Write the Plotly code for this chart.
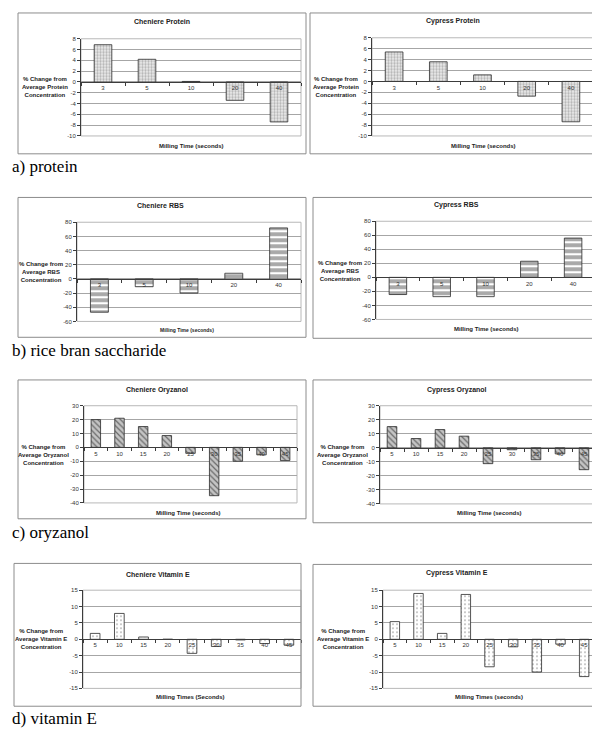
import plotly.graph_objects as go

W, H = 600, 729

# ---------------- data ----------------
protein_times = ["3", "5", "10", "20", "40"]
cheniere_protein = [6.9, 4.2, 0.1, -3.4, -7.4]
cypress_protein = [5.4, 3.6, 1.2, -2.7, -7.4]
protein_ticks = [-10, -8, -6, -4, -2, 0, 2, 4, 6, 8]

rbs_times = ["3", "5", "10", "20", "40"]
cheniere_rbs = [-47, -11, -20, 8, 72]
cypress_rbs = [-24.5, -27.5, -27.5, 23, 56]
rbs_ticks = [-60, -40, -20, 0, 20, 40, 60, 80]

oryz_times = ["5", "10", "15", "20", "25", "30", "35", "40", "45"]
cheniere_oryz = [20, 21, 15, 8.5, -4.3, -34.8, -10, -5.4, -9.5]
cypress_oryz = [15.1, 6.6, 13, 8.3, -11.3, -1.4, -8.5, -4.3, -15.6]
oryz_ticks = [-40, -30, -20, -10, 0, 10, 20, 30]

vite_times = ["5", "10", "15", "20", "25", "30", "35", "40", "45"]
cheniere_vite = [1.8, 7.9, 0.7, 0.0, -4.3, -2.2, -0.2, -1.3, -1.8]
cypress_vite = [5.4, 14.0, 1.8, 13.7, -8.4, -2.3, -10.0, -1.5, -11.4]
vite_ticks = [-15, -10, -5, 0, 5, 10, 15]

# ---------------- styles ----------------
pat_protein = dict(shape=".", fgcolor="#b4b4b4", bgcolor="#ececec", size=3, solidity=0.45, fillmode="replace")
pat_rbs = dict(shape="-", fgcolor="#ffffff", bgcolor="#a9a9a9", size=6, solidity=0.35, fillmode="replace")
pat_oryz = dict(shape="\\", fgcolor="#6a6a6a", bgcolor="#c4c4c4", size=4, solidity=0.3, fillmode="replace")
pat_vite = dict(shape=".", fgcolor="#a0a0a0", bgcolor="#ffffff", size=4, solidity=0.15, fillmode="replace")

panels = [
    dict(title="Cheniere Protein", cats=protein_times, vals=cheniere_protein, ticks=protein_ticks,
         ytitle="% Change from<br>Average Protein<br>Concentration", xtitle="Milling Time (seconds)",
         pat=pat_protein, plot=(73, 28, 293, 126), frame=(10, 2, 298, 144),
         tpos=(154, 11), ypos=(37, 77), xpos=(183, 136), xsize=6),
    dict(title="Cypress Protein", cats=protein_times, vals=cypress_protein, ticks=protein_ticks,
         ytitle="% Change from<br>Average Protein<br>Concentration", xtitle="Milling Time (seconds)",
         pat=pat_protein, plot=(364, 27, 585, 126), frame=(302, 2, 588, 144),
         tpos=(445, 10), ypos=(328, 77), xpos=(475, 136), xsize=6),
    dict(title="Cheniere RBS", cats=rbs_times, vals=cheniere_rbs, ticks=rbs_ticks,
         ytitle="% Change from<br>Average RBS<br>Concentration", xtitle="Milling Time (seconds)",
         pat=pat_rbs, plot=(69, 213, 293, 313), frame=(10, 188, 298, 329),
         tpos=(152, 196), ypos=(33, 263), xpos=(179, 322), xsize=5),
    dict(title="Cypress RBS", cats=rbs_times, vals=cypress_rbs, ticks=rbs_ticks,
         ytitle="% Change from<br>Average RBS<br>Concentration", xtitle="Milling Time (seconds)",
         pat=pat_rbs, plot=(368, 212, 587, 311), frame=(305, 188, 592, 330),
         tpos=(448, 196), ypos=(332, 262), xpos=(478, 321), xsize=6),
    dict(title="Cheniere Oryzanol", cats=oryz_times, vals=cheniere_oryz, ticks=oryz_ticks,
         ytitle="% Change from<br>Average Oryzanol<br>Concentration", xtitle="Milling Time (seconds)",
         pat=pat_oryz, plot=(76, 398, 289, 496), frame=(10, 372, 298, 512),
         tpos=(149, 382), ypos=(35, 448), xpos=(180, 506), xsize=6),
    dict(title="Cypress Oryzanol", cats=oryz_times, vals=cypress_oryz, ticks=oryz_ticks,
         ytitle="% Change from<br>Average Oryzanol<br>Concentration", xtitle="Milling Time (seconds)",
         pat=pat_oryz, plot=(372, 398, 588, 497), frame=(305, 372, 593, 516),
         tpos=(449, 382), ypos=(334, 448), xpos=(481, 506), xsize=6),
    dict(title="Cheniere Vitamin E", cats=vite_times, vals=cheniere_vite, ticks=vite_ticks,
         ytitle="% Change from<br>Average Vitamin E<br>Concentration", xtitle="Milling Times (Seconds)",
         pat=pat_vite, plot=(75, 584, 293, 683), frame=(6, 557, 293, 701),
         tpos=(150, 568), ypos=(33, 633), xpos=(182, 692), xsize=6),
    dict(title="Cypress Vitamin E", cats=vite_times, vals=cypress_vite, ticks=vite_ticks,
         ytitle="% Change from<br>Average Vitamin E<br>Concentration", xtitle="Milling Times (seconds)",
         pat=pat_vite, plot=(375, 584, 588, 683), frame=(305, 558, 593, 701),
         tpos=(449, 567), ypos=(335, 633), xpos=(481, 692), xsize=6),
]

captions = [("a) protein", 2, 157), ("b) rice bran saccharide", 2, 342),
            ("c) oryzanol", 2, 526), ("d) vitamin E", 2, 713)]

def px(x):
    return x / W

def py(y):
    return 1 - y / H

fig = go.Figure()
shapes = []
annotations = []
FONT = "'Liberation Sans', Arial, sans-serif"
SERIF = "'Liberation Serif', 'Times New Roman', 'DejaVu Serif', serif"

for i, p in enumerate(panels):
    n = "" if i == 0 else str(i + 1)
    xa, ya = "xaxis" + n, "yaxis" + n
    xr, yr_ = "x" + n, "y" + n
    x0, y0, x1, y1 = p["plot"]
    xdom = [px(x0), px(x1)]
    ydom = [py(y1), py(y0)]
    lo, hi = min(p["ticks"]), max(p["ticks"])
    zero_pos = ydom[0] + (0 - lo) / (hi - lo) * (ydom[1] - ydom[0])

    fig.add_trace(go.Bar(
        x=p["cats"], y=p["vals"], xaxis=xr, yaxis=yr_, width=0.4,
        marker=dict(pattern=p["pat"], line=dict(color="#2a2a2a", width=0.8)),
        showlegend=False, hoverinfo="x+y"))

    fig.update_layout(**{
        xa: dict(domain=xdom, anchor="free", position=zero_pos, type="category",
                 range=[-0.5, len(p["cats"]) - 0.5],
                 showline=True, linecolor="#3c3c3c", linewidth=1,
                 ticks="outside", tickson="boundaries", ticklen=3, tickcolor="#3c3c3c",
                 tickfont=dict(family=FONT, size=6, color="#333333"),
                 showgrid=False, zeroline=False, fixedrange=True),
        ya: dict(domain=ydom, anchor=xr, range=[lo, hi],
                 tickmode="array", tickvals=p["ticks"], ticktext=[str(t) for t in p["ticks"]],
                 showline=True, linecolor="#3c3c3c", linewidth=1,
                 ticks="outside", ticklen=3, tickcolor="#3c3c3c",
                 tickfont=dict(family=FONT, size=6, color="#333333"),
                 showgrid=True, gridcolor="#a6a6a6", gridwidth=1,
                 zeroline=False, fixedrange=True),
    })

    shapes.append(dict(type="rect", xref=xr + " domain", yref=yr_ + " domain",
                       x0=0, x1=1, y0=0, y1=1, line=dict(color="#b8b8b8", width=1),
                       layer="below"))
    fx0, fy0, fx1, fy1 = p["frame"]
    shapes.append(dict(type="rect", xref="paper", yref="paper",
                       x0=px(fx0), x1=px(fx1), y0=py(fy1), y1=py(fy0),
                       line=dict(color="#8c8c8c", width=1)))
    annotations.append(dict(text="<b>" + p["title"] + "</b>", xref="paper", yref="paper",
                            x=px(p["tpos"][0]), y=py(p["tpos"][1]), showarrow=False,
                            xanchor="center", yanchor="middle",
                            font=dict(family=FONT, size=7, color="#222222")))
    annotations.append(dict(text="<b>" + p["ytitle"] + "</b>", xref="paper", yref="paper",
                            x=px(p["ypos"][0]), y=py(p["ypos"][1]), showarrow=False,
                            xanchor="center", yanchor="middle", align="center",
                            font=dict(family=FONT, size=6, color="#222222")))
    annotations.append(dict(text="<b>" + p["xtitle"] + "</b>", xref="paper", yref="paper",
                            x=px(p["xpos"][0]), y=py(p["xpos"][1]), showarrow=False,
                            xanchor="center", yanchor="middle",
                            font=dict(family=FONT, size=p["xsize"], color="#222222")))

for text, cx, cy in captions:
    annotations.append(dict(text=text, xref="paper", yref="paper", x=px(cx), y=py(cy),
                            showarrow=False, xanchor="left", yanchor="middle",
                            font=dict(family=SERIF, size=17, color="#000000")))

fig.update_layout(width=W, height=H, margin=dict(l=0, r=0, t=0, b=0),
                  paper_bgcolor="white", plot_bgcolor="white",
                  shapes=shapes, annotations=annotations)

fig.write_html("out.html")
